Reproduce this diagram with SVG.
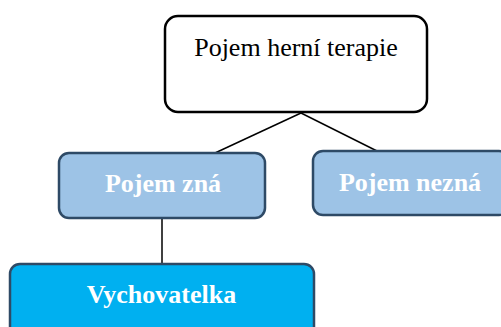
<svg xmlns="http://www.w3.org/2000/svg" width="501" height="327" viewBox="0 0 501 327">
<style>
.root{fill:#ffffff;stroke:#000000;stroke-width:2.5}
.child{fill:#9DC3E6;stroke:#2E4A66;stroke-width:2.5}
.leaf{fill:#00B0F0;stroke:#2E4A66;stroke-width:2.5}
.t{font-family:"Liberation Serif","Times New Roman",serif;text-anchor:middle}
.tw{font-family:"Liberation Serif","Times New Roman",serif;text-anchor:middle;font-weight:bold;fill:#ffffff}
.conn{stroke:#000000;stroke-width:1.5;fill:none}
</style>
<g id="connectors">
<line class="conn" x1="301" y1="113" x2="215" y2="153"/>
<line class="conn" x1="301" y1="113" x2="379" y2="152"/>
<line class="conn" x1="162" y1="218" x2="162" y2="264"/>
</g>
<g id="node-root">
<rect class="root" x="165" y="16" width="262" height="96" rx="13"/>
<text class="t" x="296" y="56" font-size="26">Pojem herní terapie</text>
</g>
<g id="node-zna">
<rect class="child" x="59" y="153" width="206" height="65" rx="10"/>
<text class="tw" x="163" y="192" font-size="26">Pojem zná</text>
</g>
<g id="node-nezna">
<rect class="child" x="313" y="151" width="196" height="64" rx="10"/>
<text class="tw" x="410" y="191" font-size="26">Pojem nezná</text>
</g>
<g id="node-vychovatelka">
<rect class="leaf" x="10" y="264" width="304" height="75" rx="10"/>
<text class="tw" x="161.5" y="303" font-size="26">Vychovatelka</text>
</g>
</svg>
